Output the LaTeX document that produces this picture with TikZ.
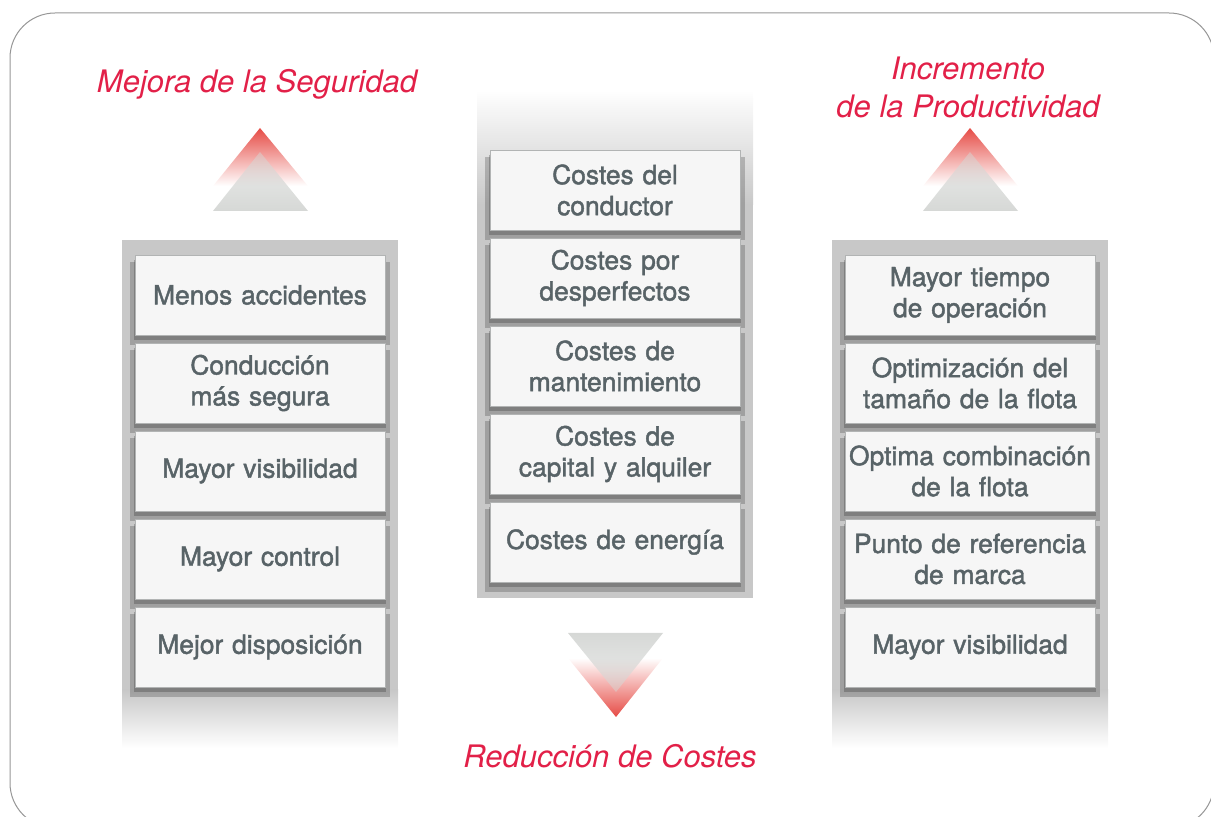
\documentclass[tikz,border=0pt]{standalone}
\usepackage{fontspec}
\setmainfont{TeX Gyre Heros}
\newfontfamily\itemface{TeX Gyre Heros}[FakeBold=1.6]
\usetikzlibrary{positioning,shadows,fadings}
\definecolor{titlered}{RGB}{226,32,72}
\definecolor{itemtext}{RGB}{88,99,103}
\definecolor{boxfill}{RGB}{246,246,246}
\definecolor{boxline}{RGB}{178,180,180}
\definecolor{colbg}{RGB}{200,200,200}
\definecolor{arrowred}{RGB}{230,76,70}
\definecolor{arrowgrey}{RGB}{214,216,214}
\definecolor{frame}{RGB}{150,150,150}
\tikzfading[name=fadeup, top color=transparent!55, bottom color=transparent!0]
\tikzfading[name=fadedown, top color=transparent!0, bottom color=transparent!55]
\tikzset{
    x=0.5pt, y=-0.5pt, node distance=3.6pt,
    item/.style={rectangle, draw=boxline, line width=0.4pt, fill=boxfill, text=itemtext,
        minimum width=125pt, minimum height=40pt, text width=125pt, inner sep=0pt,
        align=center, font=\itemface\fontsize{13.2}{15.5}\selectfont,
        drop shadow={shadow xshift=0pt, shadow yshift=-4pt, shadow scale=1.04, opacity=0.2, fill=black},
        drop shadow={shadow xshift=0pt, shadow yshift=-2.5pt, shadow scale=1.01, opacity=0.3, fill=black!80}},
    heading/.style={text=titlered, align=center, inner sep=0pt,
        font=\fontsize{15.5}{19}\selectfont\itshape}
}
\begin{document}
\begin{tikzpicture}
    \useasboundingbox (0,0) rectangle (1211,817);
    \draw[frame, line width=0.5pt, rounded corners=22.5pt] (10,13) rectangle (1214,828);
    % column backgrounds
    \fill[colbg] (122,240) rectangle (398,690);
    \shade[top color=colbg, bottom color=white] (122,690) rectangle (398,748);
    \shade[top color=white, bottom color=colbg] (477,90) rectangle (753,205);
    \fill[colbg] (477,205) rectangle (753,598);
    \fill[colbg] (832,240) rectangle (1108,690);
    \shade[top color=colbg, bottom color=white] (832,690) rectangle (1108,748);
    % Mejora de la Seguridad
    \node[heading] (seguridad) at (257,84) {Mejora de la Seguridad};
    \shade[top color=arrowred, bottom color=white] (213,186) -- (260,128) -- (308,186) -- cycle;
    \fill[arrowgrey, path fading=fadeup] (213,211) -- (260,152) -- (308,211) -- cycle;
    \node[item] (accidentes) at (260,295) {Menos accidentes};
    \node[item] (conduccion) [below=of accidentes] {Conducción\\más segura};
    \node[item] (visibilidadS) [below=of conduccion] {Mayor visibilidad};
    \node[item] (control) [below=of visibilidadS] {Mayor control};
    \node[item] (disposicion) [below=of control] {Mejor disposición};
    % Reduccion de Costes
    \node[item] (conductor) at (615,190) {Costes del\\conductor};
    \node[item] (desperfectos) [below=of conductor] {Costes por\\desperfectos};
    \node[item] (mantenimiento) [below=of desperfectos] {Costes de\\mantenimiento};
    \node[item] (capital) [below=of mantenimiento] {Costes de\\capital y alquiler};
    \node[item] (energia) [below=of capital] {Costes de energía};
    \shade[top color=white, bottom color=arrowred] (568,658) -- (663,658) -- (616,717) -- cycle;
    \fill[arrowgrey, path fading=fadedown] (568,633) -- (663,633) -- (616,692) -- cycle;
    \node[heading] (costes) at (610,756) {Reducción de Costes};
    % Incremento de la Productividad
    \node[heading] (productividad) at (968,87) {Incremento\\de la Productividad};
    \shade[top color=arrowred, bottom color=white] (923,186) -- (970,128) -- (1018,186) -- cycle;
    \fill[arrowgrey, path fading=fadeup] (923,211) -- (970,152) -- (1018,211) -- cycle;
    \node[item] (tiempo) at (970,295) {Mayor tiempo\\de operación};
    \node[item] (tamano) [below=of tiempo] {Optimización del\\tamaño de la flota};
    \node[item] (combinacion) [below=of tamano] {Optima combinación\\de la flota};
    \node[item] (referencia) [below=of combinacion] {Punto de referencia\\de marca};
    \node[item] (visibilidadP) [below=of referencia] {Mayor visibilidad};
\end{tikzpicture}
\end{document}
